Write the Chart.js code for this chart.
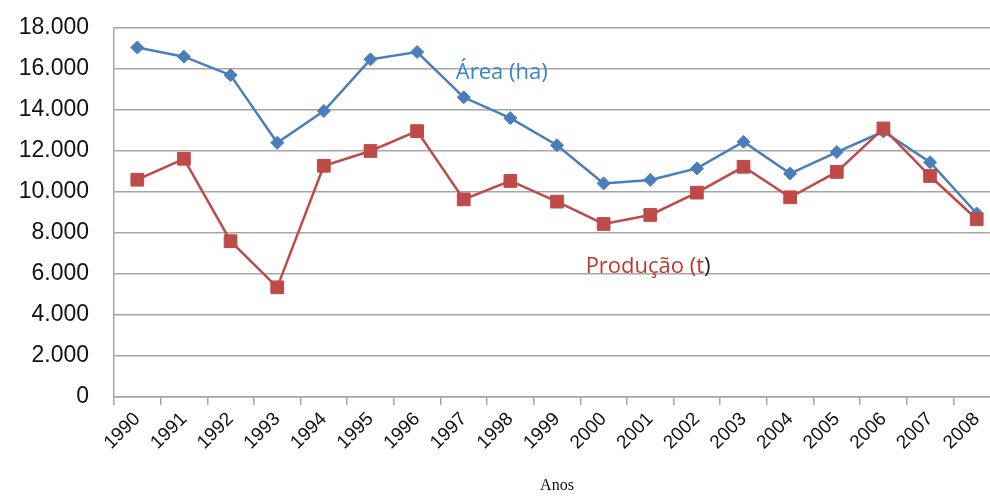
<!DOCTYPE html>
<html>
<head>
<meta charset="utf-8">
<title>Área e Produção</title>
<script src="https://cdn.jsdelivr.net/npm/chart.js@4"></script>
<style>
    html, body { margin: 0; padding: 0; background: #fff; overflow: hidden; }
    #wrap { position: absolute; left: 0; top: 0; width: 1010px; height: 497px; }
</style>
</head>
<body>
<div id="wrap"><canvas id="areaChart"></canvas></div>
<script>
// Series
const anos = ['1990', '1991', '1992', '1993', '1994', '1995', '1996', '1997', '1998', '1999',
    '2000', '2001', '2002', '2003', '2004', '2005', '2006', '2007', '2008'];
const area = [17050, 16600, 15700, 12400, 13950, 16470, 16830, 14620, 13600, 12280,
    10420, 10590, 11150, 12450, 10900, 11950, 12950, 11450, 8950];
const producao = [10600, 11620, 7600, 5350, 11280, 12000, 12970, 9640, 10540, 9530,
    8440, 8880, 9970, 11230, 9740, 10980, 13100, 10780, 8670];
const yTicks = [0, 2000, 4000, 6000, 8000, 10000, 12000, 14000, 16000, 18000];

const BLUE = '#4a7ebb';
const RED = '#be4b48';
const GRID = '#a6a6a6';

// In-plot series labels (Excel-style text boxes)
const seriesLabels = {
    id: 'seriesLabels',
    afterDatasetsDraw(chart) {
        const { ctx, scales: { x, y } } = chart;
        ctx.save();
        ctx.font = '22px "Open Sans"';
        ctx.textBaseline = 'alphabetic';
        ctx.textAlign = 'left';

        ctx.fillStyle = '#3a85c6';
        ctx.fillText('Área (ha)', x.getPixelForValue(7) - 8, y.getPixelForValue(15520));

        const px = x.getPixelForValue(10) - 18;
        const py = y.getPixelForValue(6050);
        const main = 'Produção (t';
        ctx.fillStyle = '#c0392b';
        ctx.fillText(main, px, py);
        ctx.fillStyle = '#222';
        ctx.fillText(')', px + ctx.measureText(main).width, py);
        ctx.restore();
    }
};

new Chart(document.getElementById('areaChart'), {
    type: 'line',
    data: {
        labels: anos,
        datasets: [{
            label: 'Área (ha)',
            data: area,
            borderColor: BLUE,
            backgroundColor: BLUE,
            borderWidth: 2.5,
            pointStyle: 'rectRot',
            pointRadius: 6.5,
            pointBorderWidth: 1,
            tension: 0,
            order: 1
        }, {
            label: 'Produção (t)',
            data: producao,
            borderColor: RED,
            backgroundColor: RED,
            borderWidth: 2.5,
            pointStyle: 'rect',
            pointRadius: 9,
            pointBorderWidth: 1,
            tension: 0,
            order: 0
        }]
    },
    options: {
        responsive: true,
        maintainAspectRatio: false,
        animation: false,
        layout: { padding: { left: 0, right: 7, top: 28, bottom: 0 } },
        plugins: {
            legend: { display: false },
            tooltip: { enabled: false }
        },
        scales: {
            x: {
                offset: true,
                grid: {
                    offset: true,
                    drawOnChartArea: false,
                    color: GRID,
                    lineWidth: 1.5,
                    tickLength: 8
                },
                border: { color: GRID, width: 1.5 },
                ticks: {
                    color: '#111',
                    font: { family: '"Liberation Sans", Arial', size: 19 },
                    minRotation: 45,
                    maxRotation: 45,
                    padding: 3
                },
                title: {
                    display: true,
                    text: 'Anos',
                    color: '#111',
                    font: { family: '"Liberation Serif", "Times New Roman"', size: 16 },
                    padding: { top: 0, bottom: 2 }
                },
                afterFit(scale) { scale.height = 100; }
            },
            y: {
                min: 0,
                max: 18000,
                afterBuildTicks(scale) { scale.ticks = yTicks.map(v => ({ value: v })); },
                // invisible tick marks give the gap between labels and axis
                grid: { color: GRID, lineWidth: 1.5, tickLength: 25, tickColor: 'rgba(0,0,0,0)' },
                border: { color: GRID, width: 1.5 },
                ticks: {
                    color: '#111',
                    padding: 0,
                    font: { family: '"Liberation Sans", Arial', size: 23 },
                    callback: v => v.toLocaleString('de-DE')
                },
                afterFit(scale) { scale.width = 114; }
            }
        }
    },
    plugins: [seriesLabels]
});
</script>
</body>
</html>
